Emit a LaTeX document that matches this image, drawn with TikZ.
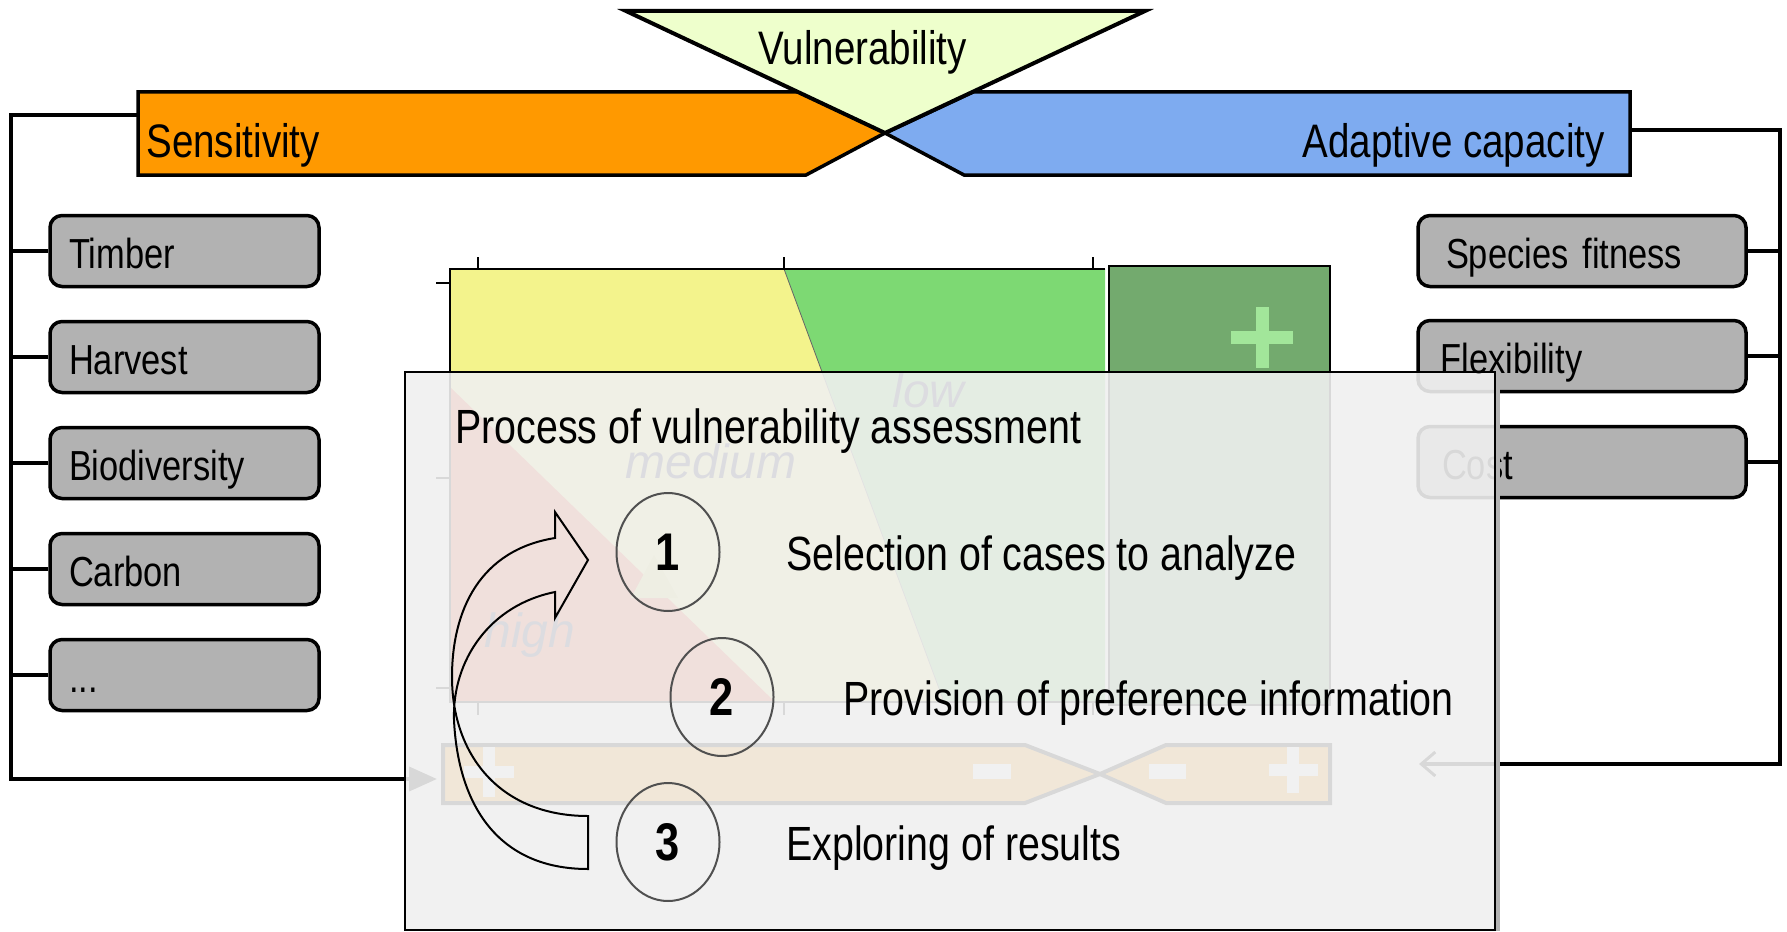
\documentclass[tikz,border=0pt]{standalone}
\usepackage{fontspec}
\setmainfont{Liberation Sans}[FakeStretch=0.82]
\newfontfamily\widefont{Liberation Sans}
\usetikzlibrary{arrows.meta,shapes.geometric}
\definecolor{sensorange}{RGB}{255,153,0}
\definecolor{adaptblue}{RGB}{126,171,240}
\definecolor{vulngreen}{RGB}{238,255,204}
\definecolor{itemgray}{RGB}{178,178,178}
\definecolor{chartyellow}{RGB}{243,243,140}
\definecolor{chartgreen}{RGB}{125,217,115}
\definecolor{chartred}{RGB}{240,80,40}
\definecolor{darkgreen}{RGB}{115,170,110}
\definecolor{plusgreen}{RGB}{162,230,154}
\definecolor{procgray}{RGB}{240,240,240}
\definecolor{circlegray}{RGB}{80,80,80}
\definecolor{labelgray}{RGB}{40,40,80}
\newcommand\hdrfont{\fontsize{23.5pt}{23.5pt}\selectfont}
\newcommand\itemfont{\fontsize{21pt}{21pt}\selectfont}
\newcommand\procfont{\fontsize{24pt}{24pt}\selectfont}
\newcommand\numfont{\fontsize{26.5pt}{26.5pt}\selectfont\bfseries}
\newcommand\lblfont{\widefont\itshape\fontsize{24pt}{24pt}\selectfont}
\begin{document}
\begin{tikzpicture}[x=0.5pt,y=-0.5pt,
  conn/.style={line width=2pt},
  hdr/.style={line width=1.75pt},
  item/.style={draw, line width=1.75pt, fill=itemgray, rounded corners=6pt,
    minimum height=35.5pt, text height=17pt, text depth=0pt, inner ysep=0pt,
    align=left, font=\itemfont},
  leftitem/.style={item, text width=115.5pt, inner xsep=9.5pt},
  rightitem/.style={item, text width=140pt, inner xsep=12pt},
  txt/.style={inner sep=0pt, anchor=base west},
  stepcircle/.style={ellipse, draw=circlegray, line width=1pt, minimum width=51.5pt,
    minimum height=59pt, inner sep=0pt, font=\numfont},
  lbl/.style={inner sep=0pt, anchor=base west, font=\lblfont, text=labelgray},
  sign/.style={fill=white}
]
\useasboundingbox (0,0) rectangle (1787,931);

% ---------- chart in the background ----------
\fill[chartyellow] (450,269) -- (784,269) -- (944,702) -- (450,702) -- cycle;
\fill[chartgreen] (784,269) -- (1105,269) -- (1105,702) -- (944,702) -- cycle;
\fill[chartred] (450,387) -- (775,702) -- (450,702) -- cycle;
\draw[black!60, line width=0.4pt] (784,269) -- (944,702);
\draw[line width=0.75pt] (1105,269) -- (450,269) -- (450,702) -- (1105,702);
\foreach \tx in {478,784,1093} {
  \draw[line width=0.75pt] (\tx,257) -- (\tx,269);
  \draw[line width=0.75pt] (\tx,702) -- (\tx,715);
}
\foreach \ty in {283,478,688} \draw[line width=0.75pt] (436,\ty) -- (450,\ty);
\node[lbl] (low) at (892,407) {low};
\node[lbl] (medium) at (625,478) {medium};
\node[lbl] (high) at (484,647) {high};
\fill[chartyellow!80!olive] (654,555) -- (678,598) -- (631,598) -- cycle;
\draw[fill=darkgreen, line width=0.75pt] (1109,266) rectangle (1330,705);
\fill[plusgreen] (1231,331) rectangle (1293,344);
\fill[plusgreen] (1256,307) rectangle (1269,368);
% bottom mini bars
\draw[fill=sensorange, line width=2pt] (443,745) -- (1025,745) -- (1100,774) -- (1025,803) -- (443,803) -- cycle;
\draw[fill=sensorange, line width=2pt] (1100,774) -- (1166,745) -- (1330,745) -- (1330,803) -- (1166,803) -- cycle;
\fill[sign] (464,766) rectangle (514,778);
\fill[sign] (483,747) rectangle (495,797);
\fill[sign] (973,764) rectangle (1011,779);
\fill[sign] (1149,764) rectangle (1186,779);
\fill[sign] (1269,764) rectangle (1318,776);
\fill[sign] (1287,747) rectangle (1299,793);

% ---------- header bars ----------
\draw[hdr, fill=sensorange] (138,92) -- (800,92) -- (885,133) -- (806,175) -- (138,175) -- cycle;
\draw[hdr, fill=adaptblue] (1630,92) -- (973,92) -- (885,133) -- (964,175) -- (1630,175) -- cycle;
\draw[line width=2pt, fill=vulngreen, line join=miter] (626,11) -- (1145,11) -- (885,133) -- cycle;
\node[txt, font=\hdrfont] (vuln) at (758,65) {Vulnerability};
\node[txt, font=\hdrfont] (sens) at (146,157) {Sensitivity};
\node[inner sep=0pt, anchor=base east, font=\hdrfont] (adapt) at (1605,157) {Adaptive capacity};

\coordinate (sensA) at (138,115);
\coordinate (adaptA) at (1630,130);
\coordinate (lspine) at (11,115);
\coordinate (rspine) at (1780,130);
\coordinate (lbot) at (11,779);
\coordinate (rbot) at (1780,764);
\coordinate (larrow) at (437,779);
\coordinate (rarrow) at (1419,764);

% ---------- items ----------
\node[leftitem] (timber) at (184.5,251) {Timber};
\node[leftitem] (harvest) at (184.5,357) {Harvest};
\node[leftitem] (biodiv) at (184.5,463) {Biodiversity};
\node[leftitem] (carbon) at (184.5,569) {Carbon};
\node[leftitem] (more) at (184.5,675) {...};
\node[rightitem, text width=136pt, inner xsep=14pt] (species) at (1582,251) {Species fitness};
\node[rightitem] (flex) at (1582,356) {};
\node[rightitem] (cost) at (1582,462) {Cost};

\foreach \n in {timber,harvest,biodiv,carbon,more}
  \draw[conn] (\n.west) -- (\n.west -| lspine);
\foreach \n in {species,flex,cost}
  \draw[conn] (\n.east) -- (\n.east -| rspine);

\draw[conn, line join=miter, -{Triangle[length=14pt,width=12pt]}] (sensA) -- (lspine) -- (lbot) -- (larrow);
\draw[conn, line join=miter, -{Straight Barb[length=7pt,width=12pt,line width=1.5pt]}] (adaptA) -- (rspine) -- (rbot) -- (rarrow);

% ---------- process box ----------
\fill[black!30] (1495,376) rectangle (1500,931);
\draw[line width=1pt, fill=procgray, fill opacity=0.9] (405,372) rectangle (1495,930);
\node[txt, font=\itemfont] (flextext) at ([xshift=12pt,yshift=-8.5pt]flex.west) {Flexibility};

\node[txt, font=\procfont] (proc) at (455,443) {Process of vulnerability assessment};
\node[stepcircle] (c1) at (668,552) {1};
\node[stepcircle] (c2) at (722,697) {2};
\node[stepcircle] (c3) at (668,842) {3};
\node[txt, font=\procfont] (s1) at (786,570) {Selection of cases to analyze};
\node[txt, font=\procfont] (s2) at (843,715) {Provision of preference information};
\node[txt, font=\procfont] (s3) at (786,860) {Exploring of results};

% curved block arrow
\draw[line width=1pt, line join=miter]
  (555,538) .. controls (480,550) and (452,610) .. (452,677)
  .. controls (452,755) and (500,816) .. (588,816)
  -- (588,869)
  .. controls (498,869) and (458,805) .. (454,720)
  .. controls (452,660) and (490,605) .. (555,592)
  -- (555,618) -- (588,560) -- (555,512) -- cycle;
\end{tikzpicture}
\end{document}
